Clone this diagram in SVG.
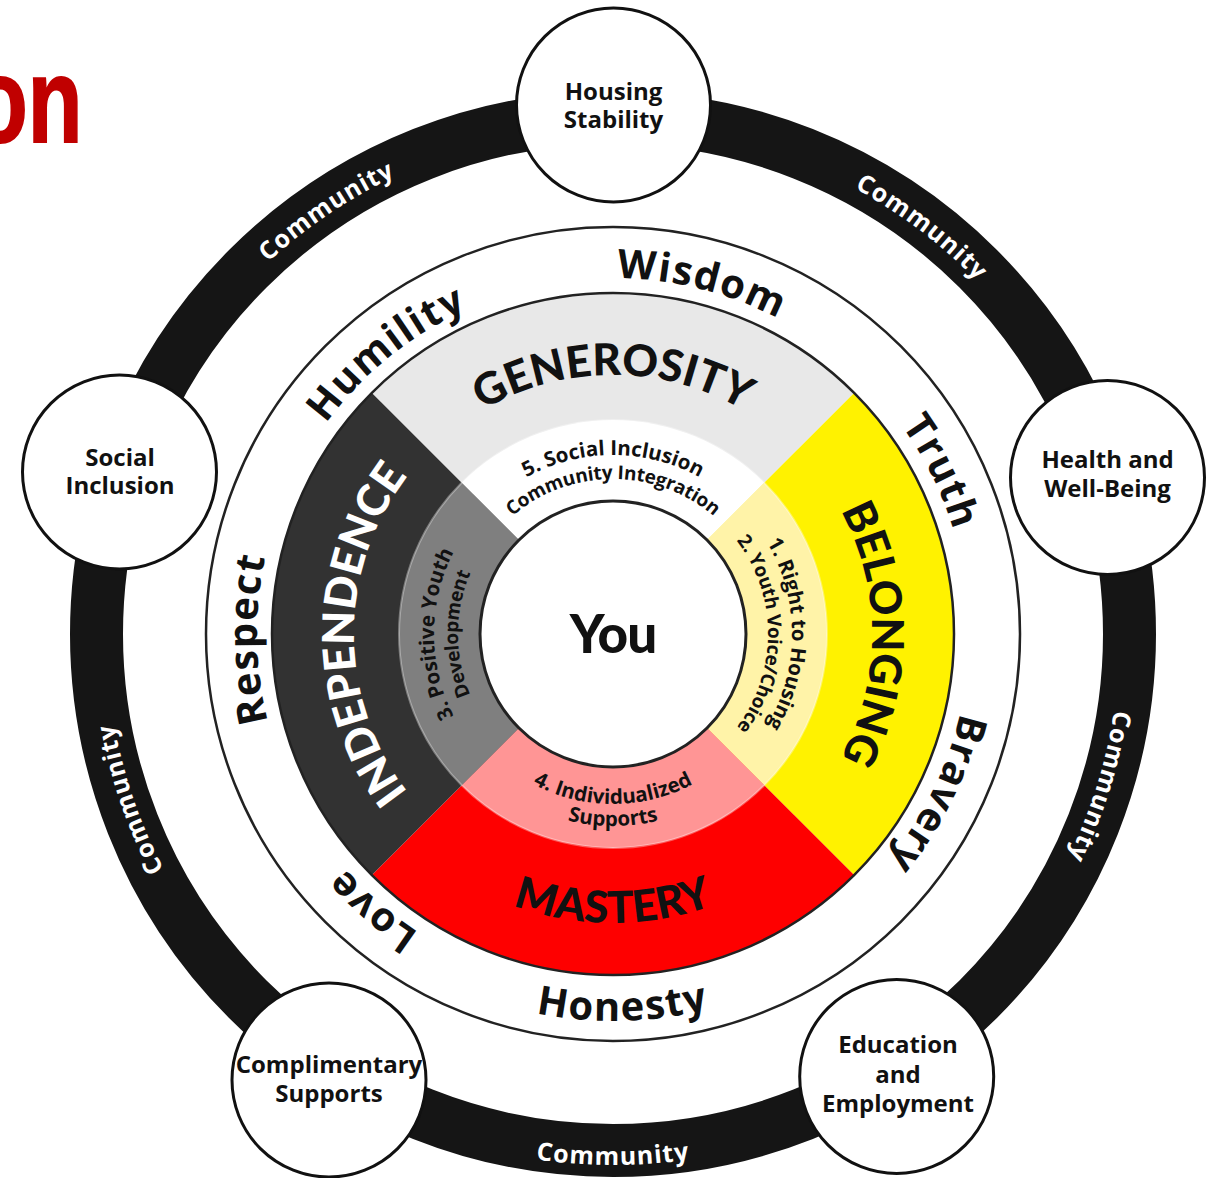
<svg xmlns="http://www.w3.org/2000/svg" width="1220" height="1178" viewBox="0 0 1220 1178">
<style>
.sat{font-family:"Open Sans","Liberation Sans",sans-serif;font-weight:700;font-size:24px;fill:#111;text-anchor:middle}
.comm{font-family:"Open Sans","Liberation Sans",sans-serif;font-weight:700;font-size:25px;fill:#fff;letter-spacing:1px;text-anchor:middle}
.virtue{font-family:"Open Sans","Liberation Sans",sans-serif;font-weight:700;font-size:40px;fill:#111;letter-spacing:1.5px;text-anchor:middle}
.big{font-family:Lato,"Open Sans",sans-serif;font-weight:900;font-size:44px;fill:#111;text-anchor:middle}
.inner{font-family:"Open Sans","Liberation Sans",sans-serif;font-weight:700;font-size:20.5px;fill:#111;text-anchor:middle}
.inner .l2{font-size:19px;letter-spacing:-0.2px}
.node{fill:#fff;stroke:#111;stroke-width:3}
</style>
<defs>
<path id="cw507" d="M613 1141A507 507 0 1 1 613 127A507 507 0 1 1 613 1141"/>
<path id="cw356" d="M613 990A356 356 0 1 1 613 278A356 356 0 1 1 613 990"/>
<path id="cw259" d="M613 893A259 259 0 1 1 613 375A259 259 0 1 1 613 893"/>
<path id="cw179" d="M613 813A179 179 0 1 1 613 455A179 179 0 1 1 613 813"/>
<path id="cw155" d="M613 789A155 155 0 1 1 613 479A155 155 0 1 1 613 789"/>
<path id="ccw531" d="M613 103A531 531 0 1 0 613 1165A531 531 0 1 0 613 103"/>
<path id="ccw387" d="M613 247A387 387 0 1 0 613 1021A387 387 0 1 0 613 247"/>
<path id="ccw289" d="M613 345A289 289 0 1 0 613 923A289 289 0 1 0 613 345"/>
<path id="ccw170" d="M613 464A170 170 0 1 0 613 804A170 170 0 1 0 613 464"/>
<path id="ccw192" d="M613 442A192 192 0 1 0 613 826A192 192 0 1 0 613 442"/>
</defs>
<rect width="1220" height="1178" fill="#fff"/>
<text x="0" y="0" transform="translate(-27,142) scale(0.74,1)" font-family="Liberation Sans, Arial, sans-serif" font-weight="700" font-size="121" fill="#c00000" stroke="#c00000" stroke-width="2">on</text>

<g id="connectors">
<circle cx="613" cy="634" r="516.5" fill="none" stroke="#151515" stroke-width="53"/>
<g class="comm">
<text transform="rotate(-34.1 613 634)"><textPath href="#cw507" startOffset="50%">Community</textPath></text>
<text transform="rotate(37.2 613 634)"><textPath href="#cw507" startOffset="50%">Community</textPath></text>
<text transform="rotate(107.4 613 634)"><textPath href="#cw507" startOffset="50%">Community</textPath></text>
<text transform="rotate(251.1 613 634)"><textPath href="#cw507" startOffset="50%">Community</textPath></text>
<text><textPath href="#ccw531" startOffset="50%">Community</textPath></text>
</g>
</g>

<g id="node-housing">
<circle class="node" cx="613.5" cy="105" r="97"/>
<text class="sat" x="613.5" y="100">Housing</text>
<text class="sat" x="613.5" y="128">Stability</text>
</g>
<g id="node-health">
<circle class="node" cx="1107.5" cy="477.5" r="97"/>
<text class="sat" x="1107.5" y="468">Health and</text>
<text class="sat" x="1107.5" y="497">Well-Being</text>
</g>
<g id="node-education">
<circle class="node" cx="896.7" cy="1076.5" r="97"/>
<text class="sat" x="898" y="1053">Education</text>
<text class="sat" x="898" y="1083">and</text>
<text class="sat" x="898" y="1112">Employment</text>
</g>
<g id="node-complimentary">
<circle class="node" cx="329" cy="1080" r="97"/>
<text class="sat" x="329" y="1073">Complimentary</text>
<text class="sat" x="329" y="1102">Supports</text>
</g>
<g id="node-social">
<circle class="node" cx="119.5" cy="472" r="97"/>
<text class="sat" x="120" y="466">Social</text>
<text class="sat" x="120" y="494">Inclusion</text>
</g>

<g id="node-wheel">
<circle cx="613" cy="634" r="407" fill="#fff" stroke="#222" stroke-width="2.5"/>
<g class="virtue">
<text transform="rotate(14.2 613 634)"><textPath href="#cw356" startOffset="50%">Wisdom</textPath></text>
<text transform="rotate(-38.9 613 634)"><textPath href="#cw356" startOffset="50%">Humility</textPath></text>
<text transform="rotate(63.7 613 634)"><textPath href="#cw356" startOffset="50%">Truth</textPath></text>
<text transform="rotate(116.2 613 634)"><textPath href="#cw356" startOffset="50%">Bravery</textPath></text>
<text transform="rotate(221 613 634)"><textPath href="#cw356" startOffset="50%">Love</textPath></text>
<text transform="rotate(269.2 613 634)"><textPath href="#cw356" startOffset="50%">Respect</textPath></text>
<text transform="rotate(-1.5 613 634)"><textPath href="#ccw387" startOffset="50%">Honesty</textPath></text>
</g>
<path d="M613 634L371.9 392.9A341 341 0 0 1 854.1 392.9Z" fill="#e8e8e8"/>
<path d="M613 634L854.1 392.9A341 341 0 0 1 854.1 875.1Z" fill="#fff200"/>
<path d="M613 634L854.1 875.1A341 341 0 0 1 371.9 875.1Z" fill="#fe0000"/>
<path d="M613 634L371.9 875.1A341 341 0 0 1 371.9 392.9Z" fill="#323232"/>
<circle cx="613" cy="634" r="341" fill="none" stroke="#222" stroke-width="2.5"/>
<path d="M613 634L461.7 482.7A214 214 0 0 1 764.3 482.7Z" fill="#fff"/>
<path d="M613 634L764.3 482.7A214 214 0 0 1 764.3 785.3Z" fill="#fff3a8"/>
<path d="M613 634L764.3 785.3A214 214 0 0 1 461.7 785.3Z" fill="#ff9595"/>
<path d="M613 634L461.7 785.3A214 214 0 0 1 461.7 482.7Z" fill="#7f7f7f"/>
<circle cx="613" cy="634" r="214" fill="none" stroke="#fff" stroke-opacity="0.35" stroke-width="2"/>
<circle cx="613" cy="634" r="133" fill="#fff" stroke="#222" stroke-width="3"/>
<g class="big">
<text><textPath href="#cw259" startOffset="50%">GENEROSITY</textPath></text>
<text transform="rotate(90 613 634)"><textPath href="#cw259" startOffset="50%">BELONGING</textPath></text>
<text transform="rotate(270 613 634)" fill="#fff"><textPath href="#cw259" startOffset="50%">INDEPENDENCE</textPath></text>
<text><textPath href="#ccw289" startOffset="50%">MASTERY</textPath></text>
</g>
<g class="inner">
<text><textPath href="#cw179" startOffset="50%">5. Social Inclusion</textPath></text>
<text class="l2"><textPath href="#cw155" startOffset="50%">Community Integration</textPath></text>
<text transform="rotate(90 613 634)"><textPath href="#cw179" startOffset="50%">1. Right to Housing</textPath></text>
<text class="l2" transform="rotate(90 613 634)"><textPath href="#cw155" startOffset="50%">2. Youth Voice/Choice</textPath></text>
<text transform="rotate(270 613 634)"><textPath href="#cw179" startOffset="50%">3. Positive Youth</textPath></text>
<text class="l2" transform="rotate(270 613 634)"><textPath href="#cw155" startOffset="50%">Development</textPath></text>
<text><textPath href="#ccw170" startOffset="50%">4. Individualized</textPath></text>
<text><textPath href="#ccw192" startOffset="50%">Supports</textPath></text>
</g>
<text x="613" y="653" font-family="Lato, Open Sans, sans-serif" font-weight="900" font-size="53" letter-spacing="-1" text-anchor="middle" fill="#111">You</text>
</g>
</svg>
